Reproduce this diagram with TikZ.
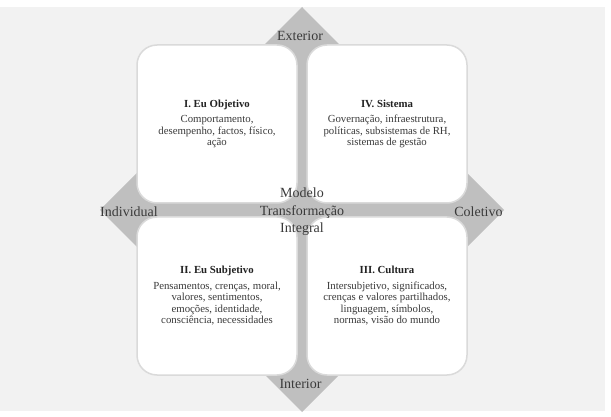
\documentclass[tikz,border=0pt]{standalone}
\usepackage{fontspec}
\setmainfont{Liberation Serif}
\definecolor{bgc}{HTML}{F2F2F2}
\definecolor{arrowc}{HTML}{BFBFBF}
\definecolor{boxline}{HTML}{DADADA}
\definecolor{txt}{HTML}{3A3A3A}
\definecolor{ttl}{HTML}{222222}
\begin{document}
\begin{tikzpicture}[x=1pt,y=-1pt,
  quad/.style={draw=boxline, line width=1.5pt, fill=white, rounded corners=20pt,
    minimum width=160pt, minimum height=158pt, inner sep=0pt, align=center,
    text=txt, font=\fontsize{10.8}{11.5}\selectfont},
  axislabel/.style={font=\fontsize{14}{17.5}\selectfont, text=txt, inner sep=0pt, anchor=base}]
\useasboundingbox (0,0) rectangle (611,417);
\fill[bgc] (0,7) rectangle (605,411);
\fill[arrowc] (302,7) -- (504,210) -- (302,412) -- (100,210) -- cycle;
\node[quad] (q1) at (217,124) {\textcolor{ttl}{\textbf{I. Eu Objetivo}}\\[4pt]Comportamento,\\desempenho, factos, físico,\\ação};
\node[quad] (q4) at (387,124) {\textcolor{ttl}{\textbf{IV. Sistema}}\\[4pt]Governação, infraestrutura,\\políticas, subsistemas de RH,\\sistemas de gestão};
\node[quad] (q2) at (217,296) {\textcolor{ttl}{\textbf{II. Eu Subjetivo}}\\[4pt]Pensamentos, crenças, moral,\\valores, sentimentos,\\emoções, identidade,\\consciência, necessidades};
\node[quad] (q3) at (387,296) {\textcolor{ttl}{\textbf{III. Cultura}}\\[4pt]Intersubjetivo, significados,\\crenças e valores partilhados,\\linguagem, símbolos,\\normas, visão do mundo};
\node[axislabel] (ext) at (300,41) {Exterior};
\node[axislabel] (int) at (300.5,388) {Interior};
\node[axislabel] (ind) at (129,216) {Individual};
\node[axislabel] (col) at (478.5,216) {Coletivo};
\node[font=\fontsize{14}{17.5}\selectfont, text=txt, inner sep=0pt, align=center] (centre) at (302,212) {Modelo\\Transformação\\Integral};
\end{tikzpicture}
\end{document}
